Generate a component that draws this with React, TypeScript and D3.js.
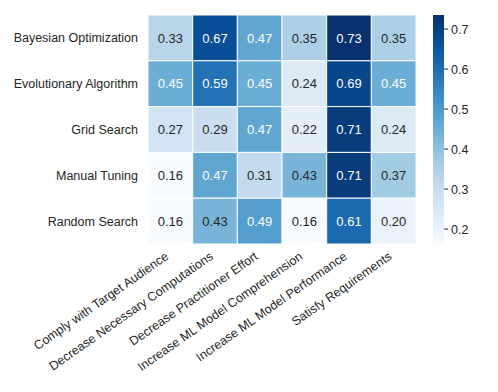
import React from 'react';
import * as d3 from 'd3';

const width = 498;
const height = 392;
const margin = { top: 15, left: 148 };
const cellW = 44.67;
const cellH = 45.8;

const rows = ['Bayesian Optimization', 'Evolutionary Algorithm', 'Grid Search', 'Manual Tuning', 'Random Search'];
const cols = [
  'Comply with Target Audience',
  'Decrease Necessary Computations',
  'Decrease Practitioner Effort',
  'Increase ML Model Comprehension',
  'Increase ML Model Performance',
  'Satisfy Requirements'
];
const bayesian = [0.33, 0.67, 0.47, 0.35, 0.73, 0.35];
const evolutionary = [0.45, 0.59, 0.45, 0.24, 0.69, 0.45];
const grid = [0.27, 0.29, 0.47, 0.22, 0.71, 0.24];
const manual = [0.16, 0.47, 0.31, 0.43, 0.71, 0.37];
const random = [0.16, 0.43, 0.49, 0.16, 0.61, 0.2];
const values = [bayesian, evolutionary, grid, manual, random];
const cbarTicks = [0.2, 0.3, 0.4, 0.5, 0.6, 0.7];
const vmin = 0.1625;
const vmax = 0.735;

// matplotlib "Blues" control points
const blues = ['#f7fbff', '#deebf7', '#c6dbef', '#9ecae1', '#6baed6', '#4292c6', '#2171b5', '#08519c', '#08306b'];
const bluesScale = d3
  .scaleLinear<string>()
  .domain(blues.map((_, i) => i / (blues.length - 1)))
  .range(blues)
  .interpolate(d3.interpolateRgb);

const font = '"Liberation Sans", Arial, sans-serif';
const textColor = '#262626';

export default function App() {
  const x = d3.scaleBand().domain(cols).range([margin.left, margin.left + cellW * cols.length]);
  const y = d3.scaleBand().domain(rows).range([margin.top, margin.top + cellH * rows.length]);
  const norm = d3.scaleLinear().domain([vmin, vmax]).range([0, 1]).clamp(true);
  const color = (v: number) => bluesScale(norm(v));

  const cbX = 433;
  const cbW = 11;
  const cbY = d3.scaleLinear().domain([vmin, vmax]).range([margin.top + cellH * rows.length, margin.top]);
  const stops = d3.range(0, 1.0001, 0.05);

  return (
    <svg width={width} height={height} style={{ display: 'block', position: 'absolute', left: 0, top: 0 }}>
      <rect width={width} height={height} fill="#fff" />
      <defs>
        <linearGradient id="cbar" x1="0" y1="1" x2="0" y2="0">
          {stops.map(s => (
            <stop key={s} offset={s} stopColor={bluesScale(s)} />
          ))}
        </linearGradient>
      </defs>
      {values.map((row, i) =>
        row.map((v, j) => (
          <g key={i + '-' + j}>
            <rect
              x={x(cols[j])}
              y={y(rows[i])}
              width={x.bandwidth()}
              height={y.bandwidth()}
              fill={color(v)}
              stroke="#fff"
              strokeWidth={1}
            />
            <text
              x={x(cols[j])! + x.bandwidth() / 2}
              y={y(rows[i])! + y.bandwidth() / 2}
              dy="0.36em"
              textAnchor="middle"
              fontFamily={font}
              fontSize={13}
              fill={v >= 0.44 ? '#fff' : textColor}
            >
              {v.toFixed(2)}
            </text>
          </g>
        ))
      )}
      {rows.map(r => (
        <text
          key={r}
          x={margin.left - 10}
          y={y(r)! + y.bandwidth() / 2}
          dy="0.36em"
          textAnchor="end"
          fontFamily={font}
          fontSize={12.5}
          fill={textColor}
        >
          {r}
        </text>
      ))}
      {cols.map(c => (
        <text
          key={c}
          transform={`translate(${x(c)! + x.bandwidth() / 2 - 6},${margin.top + cellH * rows.length + 7}) rotate(-35)`}
          dy="0.7em"
          textAnchor="end"
          fontFamily={font}
          fontSize={12.5}
          fill={textColor}
        >
          {c}
        </text>
      ))}
      <rect x={cbX} y={margin.top} width={cbW} height={cellH * rows.length} fill="url(#cbar)" />
      {cbarTicks.map(t => (
        <g key={t} transform={`translate(${cbX + cbW},${cbY(t)})`}>
          <line x1={0} x2={4} stroke={textColor} strokeWidth={1} />
          <text x={7} dy="0.36em" fontFamily={font} fontSize={12.5} fill={textColor}>
            {t.toFixed(1)}
          </text>
        </g>
      ))}
    </svg>
  );
}
